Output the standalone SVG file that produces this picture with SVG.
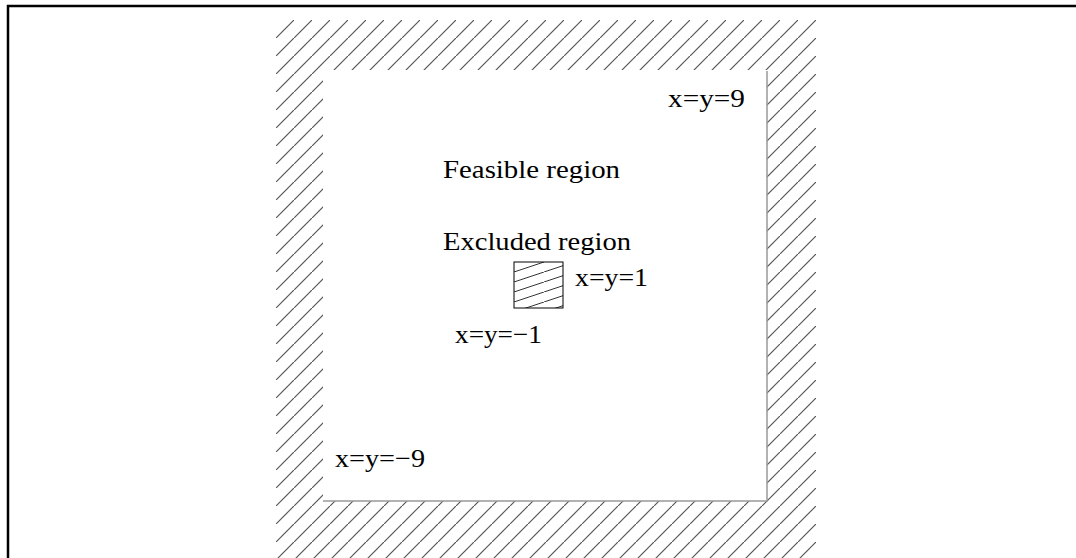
<svg xmlns="http://www.w3.org/2000/svg" width="1076" height="558" viewBox="0 0 1076 558">
<style>
.t{font-family:"Liberation Serif","Times New Roman",serif;font-size:26px;fill:#000}
.frame{stroke:#000;stroke-width:2.5;fill:none}
.edge{stroke:#999;stroke-width:1.5;fill:none}
</style>
<defs>
<pattern id="hatchBig" patternUnits="userSpaceOnUse" x="276" y="20" width="18" height="18">
<path d="M-2,20 L20,-2" stroke="#555" stroke-width="1.2"/>
</pattern>
<pattern id="hatchSmall" patternUnits="userSpaceOnUse" x="514" y="262" width="30" height="10">
<path d="M-3,11 L33,-1" stroke="#333" stroke-width="1"/>
</pattern>
</defs>
<rect width="1076" height="558" fill="#fff"/>
<path class="frame" d="M8,558 L8,6 L1076,6"/>
<g id="boundary">
<path d="M276,20 H816 V558 H276 Z M323,70 V501 H767 V70 Z" fill="url(#hatchBig)" fill-rule="evenodd"/>
<path class="edge" d="M323,501 H767 V71"/>
</g>
<g id="excluded">
<rect x="514" y="262" width="49" height="46" fill="url(#hatchSmall)" stroke="#000" stroke-width="1"/>
</g>
<g id="labels">
<text class="t" x="668" y="107" textLength="77" lengthAdjust="spacingAndGlyphs">x=y=9</text>
<text class="t" x="443" y="178" textLength="177" lengthAdjust="spacingAndGlyphs">Feasible region</text>
<text class="t" x="443" y="250" textLength="188" lengthAdjust="spacingAndGlyphs">Excluded region</text>
<text class="t" x="575" y="286" textLength="73" lengthAdjust="spacingAndGlyphs">x=y=1</text>
<text class="t" x="455" y="343" textLength="87" lengthAdjust="spacingAndGlyphs">x=y=−1</text>
<text class="t" x="335" y="467" textLength="90" lengthAdjust="spacingAndGlyphs">x=y=−9</text>
</g>
</svg>
